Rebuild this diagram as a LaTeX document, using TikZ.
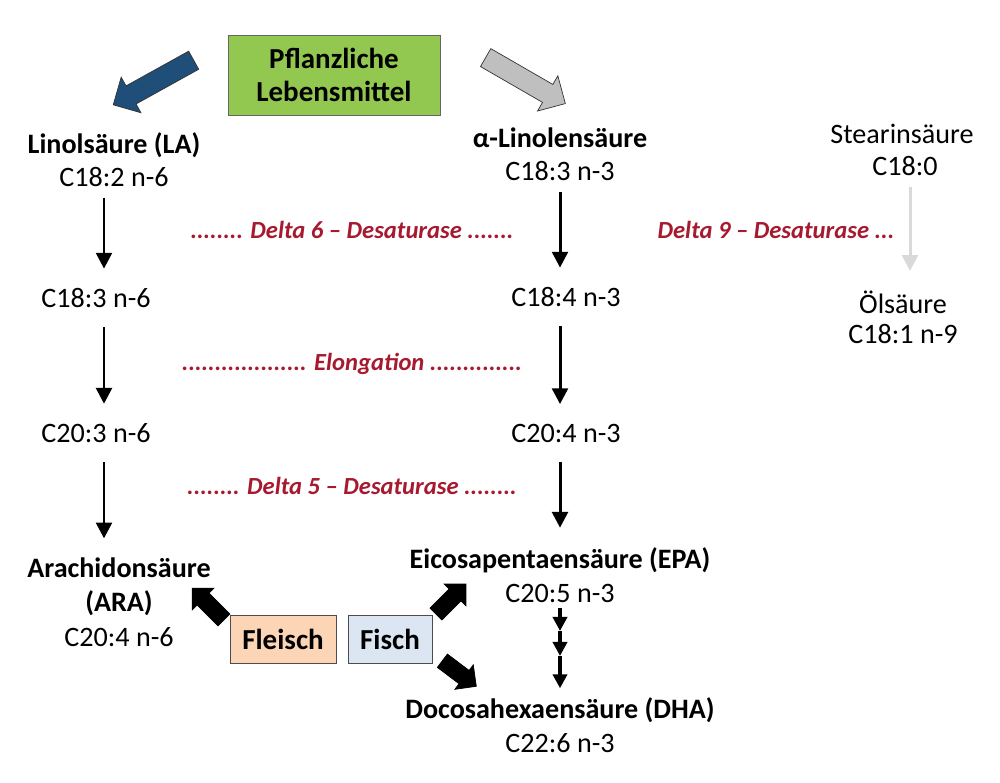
\documentclass[tikz,border=0pt]{standalone}
\usepackage{fontspec}
\setmainfont{Carlito}
\usetikzlibrary{arrows.meta, shapes.arrows}
\definecolor{plantgreen}{RGB}{146,200,80}
\definecolor{deltared}{RGB}{166,25,46}
\definecolor{lablue}{RGB}{31,78,121}
\definecolor{alagrey}{RGB}{191,191,191}
\definecolor{oleicgrey}{RGB}{217,217,217}
\definecolor{meatpeach}{RGB}{251,213,181}
\definecolor{fishblue}{RGB}{220,230,242}

\begin{document}
\begin{tikzpicture}[x=0.02cm, y=-0.02cm,
    acid/.style={font=\fontsize{16}{18}\selectfont\bfseries, inner sep=1pt},
    formula/.style={font=\fontsize{16}{18}\selectfont, inner sep=1pt},
    enzyme/.style={font=\fontsize{14}{17}\selectfont\bfseries\itshape, text=deltared},
    chain/.style={-{Triangle[length=9pt,width=9pt]}, line width=1.7pt, shorten <=10pt, shorten >=10pt},
    minichain/.style={-{Triangle[length=8pt,width=8pt]}, line width=2pt, shorten <=0pt, shorten >=0pt},
    food/.style={draw=black!70, font=\fontsize{16.5}{18}\selectfont\bfseries, minimum height=0.96cm},
    block/.style={single arrow, draw=black!80, inner xsep=0pt, inner ysep=0.2cm, single arrow head extend=0.2cm, minimum height=1.84cm}]

    \useasboundingbox (0,0) rectangle (1000,782);

    % Source box
    \node[draw=black!60, fill=plantgreen, minimum width=4.24cm, minimum height=1.6cm, align=center, font=\fontsize{16.5}{18.7}\selectfont\bfseries] (plant) at (334,75) {Pflanzliche\\Lebensmittel};

    % Block arrows from the source box
    \node[block, fill=lablue, rotate=209] (toLA) at (158,80) {};
    \node[block, fill=alagrey, rotate=-30] (toALA) at (521,78) {};

    % n-6 column
    \node[acid] (la) at (114,145) {Linolsäure (LA)};
    \node[formula] (la f) at (114,177) {C18:2 n-6};
    \node[formula] (c183n6) at (96,298) {C18:3 n-6};
    \node[formula] (c203n6) at (96,433) {C20:3 n-6};
    \node[acid] (ara) at (119,568) {Arachidonsäure};
    \node[acid] (ara2) at (119,603) {(ARA)};
    \node[formula] (ara f) at (119,637) {C20:4 n-6};

    % n-3 column
    \node[acid] (ala) at (560,138) {α-Linolensäure};
    \node[formula] (ala f) at (560,171) {C18:3 n-3};
    \node[formula] (c184n3) at (566,297) {C18:4 n-3};
    \node[formula] (c204n3) at (566,433) {C20:4 n-3};
    \node[acid] (epa) at (560,560) {Eicosapentaensäure (EPA)};
    \node[formula] (epa f) at (560,593) {C20:5 n-3};
    \node[acid] (dha) at (560,710) {Docosahexaensäure (DHA)};
    \node[formula] (dha f) at (560,743) {C22:6 n-3};

    % n-9 column
    \node[formula] (sa) at (902,134) {Stearinsäure};
    \node[formula] (sa f) at (905,166) {C18:0};
    \node[formula] (oa) at (903,302) {Ölsäure};
    \node[formula] (oa f) at (903,334) {C18:1 n-9};

    % Enzyme steps
    \node[enzyme] (d6) at (352,230) {........ Delta 6 – Desaturase .......};
    \node[enzyme] (elo) at (352,364) {................... Elongation ..............};
    \node[enzyme] (d5) at (352,486) {........ Delta 5 – Desaturase ........};
    \node[enzyme] (d9) at (776,230) {Delta 9 – Desaturase ...};

    % Conversion arrows
    \draw[chain, shorten <=5pt] (la f.south -| 104,0) -- (c183n6.north -| 104,0);
    \draw[chain] (c183n6.south -| 104,0) -- (c203n6.north -| 104,0);
    \draw[chain] (c203n6.south -| 104,0) -- (ara.north -| 104,0);
    \draw[chain, shorten <=5pt] (ala f.south) -- (ala f.south |- c184n3.north);
    \draw[chain] (c184n3.south -| ala f.south) -- (ala f.south |- c204n3.north);
    \draw[chain] (c204n3.south -| ala f.south) -- (epa.north);
    \draw[chain, oleicgrey, shorten <=5pt] (sa f.south -| 910,0) -- (oa.north -| 910,0);

    % EPA to DHA
    \coordinate (t1) at (560,631);
    \coordinate (t2) at (560,656);
    \draw[minichain, shorten <=2pt] (epa f.south) -- (t1);
    \draw[minichain] (t1) -- (t2);
    \draw[minichain, shorten >=4pt] (t2) -- (dha.north);

    % Animal sources
    \node[food, fill=meatpeach, minimum width=2.12cm] (meat) at (283,639) {Fleisch};
    \node[food, fill=fishblue, minimum width=1.68cm] (fish) at (390,639) {Fisch};
    \node[block, fill=black, draw=black, minimum height=0.9cm, inner ysep=0.16cm, single arrow head extend=0.14cm, rotate=135] (toARA) at (211,607) {};
    \node[block, fill=black, draw=black, minimum height=0.85cm, inner ysep=0.16cm, single arrow head extend=0.14cm, rotate=45] (toEPA) at (448,602) {};
    \node[block, fill=black, draw=black, minimum height=0.85cm, inner ysep=0.16cm, single arrow head extend=0.14cm, rotate=-37] (toDHA) at (456,671) {};

\end{tikzpicture}
\end{document}
